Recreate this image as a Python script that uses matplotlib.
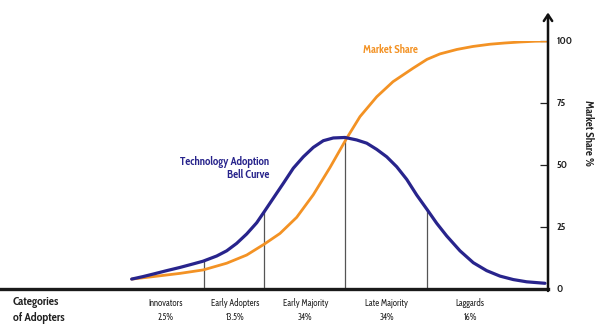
import numpy as np
import matplotlib
matplotlib.use("Agg")
import matplotlib.pyplot as plt

# Technology adoption curve (share of new adopters over time)
bell_x = [24.03, 26.09, 27.92, 30.42, 32.85, 35.22, 37.04, 39.54, 41.37, 43.19,
          45.02, 46.84, 48.23, 49.87, 51.70, 53.52, 55.35, 57.17, 59.00, 60.82,
          62.96, 65.09, 66.92, 68.74, 70.57, 72.39, 74.22, 76.04, 77.98, 79.69,
          81.51, 83.94, 86.37, 88.81, 91.24, 93.67, 96.11, 99.45]
bell_y = [4.0, 5.0, 6.0, 7.4, 8.7, 10.1, 11.2, 13.3, 15.4, 18.4,
          22.2, 26.7, 31.2, 36.6, 42.6, 48.7, 53.3, 57.1, 59.8, 60.9,
          61.1, 60.1, 58.8, 56.3, 53.3, 49.3, 44.2, 37.9, 31.9, 26.5,
          21.4, 15.4, 10.6, 7.4, 5.2, 3.8, 2.9, 2.3]

# Cumulative market share (%)
share_x = [24.03, 27.97, 32.85, 37.10, 41.37, 45.02, 48.23, 51.09, 54.14, 57.17,
           60.22, 63.27, 65.69, 68.74, 71.72, 75.36, 77.92, 80.29, 83.39, 86.31,
           89.42, 92.15, 94.89, 97.63, 100.0]
share_y = [4.0, 5.0, 6.3, 7.7, 10.4, 13.7, 18.1, 22.4, 28.9, 38.0,
           49.0, 60.8, 69.5, 77.5, 83.6, 89.0, 92.6, 94.8, 96.6, 97.8,
           98.7, 99.2, 99.6, 99.9, 100.0]

# Adopter category boundaries and labels
boundaries = [37.2, 48.2, 63.0, 77.9]
categories = ["Innovators", "Early Adopters", "Early Majority", "Late Majority", "Laggards"]
category_pct = ["2.5%", "13.5%", "34%", "34%", "16%"]
category_pos = [30.3, 42.9, 55.7, 70.6, 85.8]

y_ticks = [0, 25, 50, 75, 100]

NAVY = "#28248c"
ORANGE = "#f39224"
FONT = ["Cabin Condensed", "DejaVu Sans"]

W, H = 595, 329
fig = plt.figure(figsize=(W / 100, H / 100), dpi=100)
ax = fig.add_axes([0, 40 / H, 548 / W, 248 / H])
ax.set_xlim(0, 100)
ax.set_ylim(0, 100)

ax.plot(share_x, share_y, color=ORANGE, lw=2.0, solid_capstyle="round",
        solid_joinstyle="round", zorder=3)
ax.plot(bell_x, bell_y, color=NAVY, lw=2.3, solid_capstyle="round",
        solid_joinstyle="round", zorder=4)

# Category divider lines up to the bell curve
for b in boundaries:
    top = np.interp(b, bell_x, bell_y)
    ax.plot([b, b], [0, top], color="#555555", lw=0.9, zorder=2)

# Axes styling
for side in ("top", "left", "right"):
    ax.spines[side].set_visible(False)
ax.spines["bottom"].set_linewidth(2.4)
ax.spines["bottom"].set_color("#1a1a1a")
ax.set_xticks([])
ax.yaxis.tick_right()
ax.set_yticks(y_ticks)
ax.set_yticklabels([str(t) for t in y_ticks], family=FONT, fontsize=7.5,
                   fontweight="bold", color="#222222")
ax.tick_params(axis="y", direction="in", length=6, width=0.9, pad=6,
               colors="#222222")

# Vertical axis with arrowhead
ax.annotate("", xy=(100, 111.5), xytext=(100, -0.8), xycoords="data",
            arrowprops=dict(arrowstyle="->,head_length=0.45,head_width=0.3",
                            lw=1.8, color="#111111", shrinkA=0, shrinkB=0),
            annotation_clip=False, zorder=5)

fig.text(588 / W, 1 - 133 / H, "Market Share %", rotation=270, ha="center",
         va="center", family=FONT, fontsize=8, fontweight="bold",
         color="#222222")

# Curve labels
ax.text(49.1, 51.3, "Technology Adoption", ha="right", va="center", family=FONT,
        fontsize=8, fontweight="bold", color=NAVY)
ax.text(49.1, 45.8, "Bell Curve", ha="right", va="center", family=FONT,
        fontsize=8, fontweight="bold", color=NAVY)
ax.text(71.3, 96.5, "Market Share", ha="center", va="center", family=FONT,
        fontsize=8, fontweight="bold", color=ORANGE)

# Category labels under the axis
for name, pct, pos in zip(categories, category_pct, category_pos):
    ax.text(pos, -5.6, name, ha="center", va="center", family=FONT,
            fontsize=6.3, color="#222222", clip_on=False)
    ax.text(pos, -11.4, pct, ha="center", va="center", family=FONT,
            fontsize=6.3, color="#222222", clip_on=False)

fig.text(13 / W, 1 - 302 / H, "Categories", ha="left", va="center", family=FONT,
         fontsize=8.5, fontweight="bold", color="#222222")
fig.text(13 / W, 1 - 318 / H, "of Adopters", ha="left", va="center", family=FONT,
         fontsize=8.5, fontweight="bold", color="#222222")

fig.savefig("out.png", dpi=100)
